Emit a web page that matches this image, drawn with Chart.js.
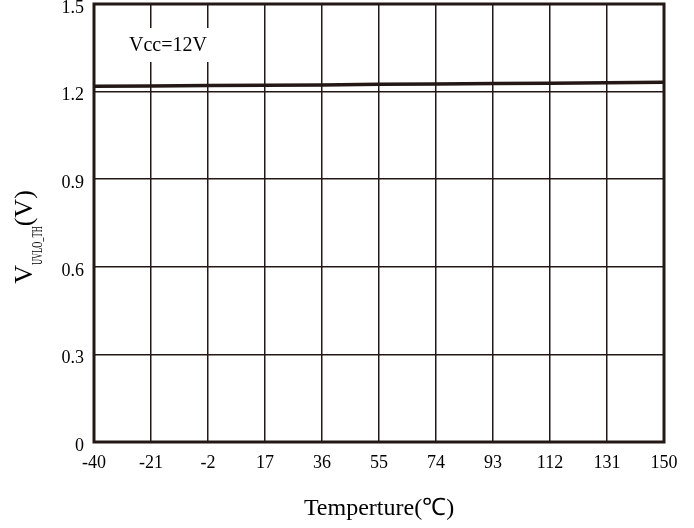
<!DOCTYPE html>
<html>
<head>
<meta charset="utf-8">
<script src="https://cdn.jsdelivr.net/npm/chart.js@4/dist/chart.umd.min.js"></script>
<style>
  html, body { margin: 0; padding: 0; background: #fff; }
  #wrap { width: 694px; height: 528px; }
</style>
</head>
<body>
<div id="wrap"><canvas id="c" width="694" height="528"></canvas></div>
<script>
// Data
const temperatures = [-40, -21, -2, 17, 36, 55, 74, 93, 112, 131, 150];
const vUvloTh = [1.218, 1.219, 1.221, 1.222, 1.223, 1.225, 1.226, 1.228, 1.229, 1.230, 1.232];
const xTickStep = 19;
const yTickStep = 0.3;
const xTitle = 'Temperture(\u2103)';
const yTitleMain = 'V';
const yTitleSub = 'UVLO_TH';
const yTitleUnit = '(V)';
const noteText = 'Vcc=12V';

const INK = '#231815';
const SERIF = "'Liberation Serif', 'Times New Roman', serif";

const framePlugin = {
  id: 'frameAndLabels',
  afterDraw(chart) {
    const ctx = chart.ctx;
    const a = chart.chartArea;
    ctx.save();
    // note box
    ctx.fillStyle = '#fff';
    ctx.fillRect(124, 28, 90, 34);
    ctx.fillStyle = '#000';
    ctx.font = '20px ' + SERIF;
    ctx.textAlign = 'center';
    ctx.textBaseline = 'middle';
    ctx.fillText(noteText, 168, 46);
    // frame
    ctx.strokeStyle = INK;
    ctx.lineWidth = 3;
    ctx.strokeRect(a.left, a.top, a.right - a.left, a.bottom - a.top);
    // y title with subscript
    ctx.translate(32, 237);
    ctx.rotate(-Math.PI / 2);
    ctx.textAlign = 'left';
    ctx.textBaseline = 'alphabetic';
    ctx.font = '26px ' + SERIF;
    const wMain = ctx.measureText(yTitleMain).width;
    const wUnit = ctx.measureText(yTitleUnit).width;
    ctx.font = '14px ' + SERIF;
    const subScale = 0.6;
    const wSub = ctx.measureText(yTitleSub).width * subScale;
    let x = -(wMain + wSub + wUnit) / 2;
    ctx.font = '26px ' + SERIF;
    ctx.fillText(yTitleMain, x, 0);
    x += wMain;
    ctx.save();
    ctx.translate(x, 10);
    ctx.scale(subScale, 1);
    ctx.font = '14px ' + SERIF;
    ctx.fillText(yTitleSub, 0, 0);
    ctx.restore();
    x += wSub;
    ctx.font = '26px ' + SERIF;
    ctx.fillText(yTitleUnit, x, 0);
    ctx.restore();
  }
};

new Chart(document.getElementById('c'), {
  type: 'line',
  data: {
    datasets: [{
      data: temperatures.map((t, i) => ({ x: t, y: vUvloTh[i] })),
      borderColor: INK,
      borderWidth: 3.5,
      pointRadius: 0,
      tension: 0,
      fill: false
    }]
  },
  options: {
    responsive: false,
    animation: false,
    devicePixelRatio: 1,
    layout: { padding: { left: 0, right: 30, top: 4, bottom: 0 } },
    plugins: { legend: { display: false }, tooltip: { enabled: false } },
    scales: {
      x: {
        type: 'linear',
        min: -40,
        max: 150,
        afterFit: s => { s.height = 86; s.paddingLeft = 0; s.paddingRight = 0; },
        ticks: {
          stepSize: xTickStep,
          color: '#000',
          font: { family: SERIF, size: 18 },
          padding: 10,
          maxRotation: 0
        },
        grid: { color: INK, lineWidth: 1.5, drawTicks: false },
        border: { display: false },
        title: {
          display: true,
          text: xTitle,
          color: '#000',
          font: { family: SERIF, size: 24 },
          padding: { top: 0, bottom: 5 }
        }
      },
      y: {
        type: 'linear',
        min: 0,
        max: 1.5,
        afterFit: s => { s.width = 94; s.paddingTop = 0; s.paddingBottom = 0; },
        ticks: {
          stepSize: yTickStep,
          color: '#000',
          font: { family: SERIF, size: 18 },
          padding: 10,
          labelOffset: 4,
          callback: v => (Math.abs(v) < 1e-9 ? '0' : v.toFixed(1))
        },
        grid: { color: INK, lineWidth: 1.5, drawTicks: false },
        border: { display: false }
      }
    }
  },
  plugins: [framePlugin]
});
</script>
</body>
</html>
